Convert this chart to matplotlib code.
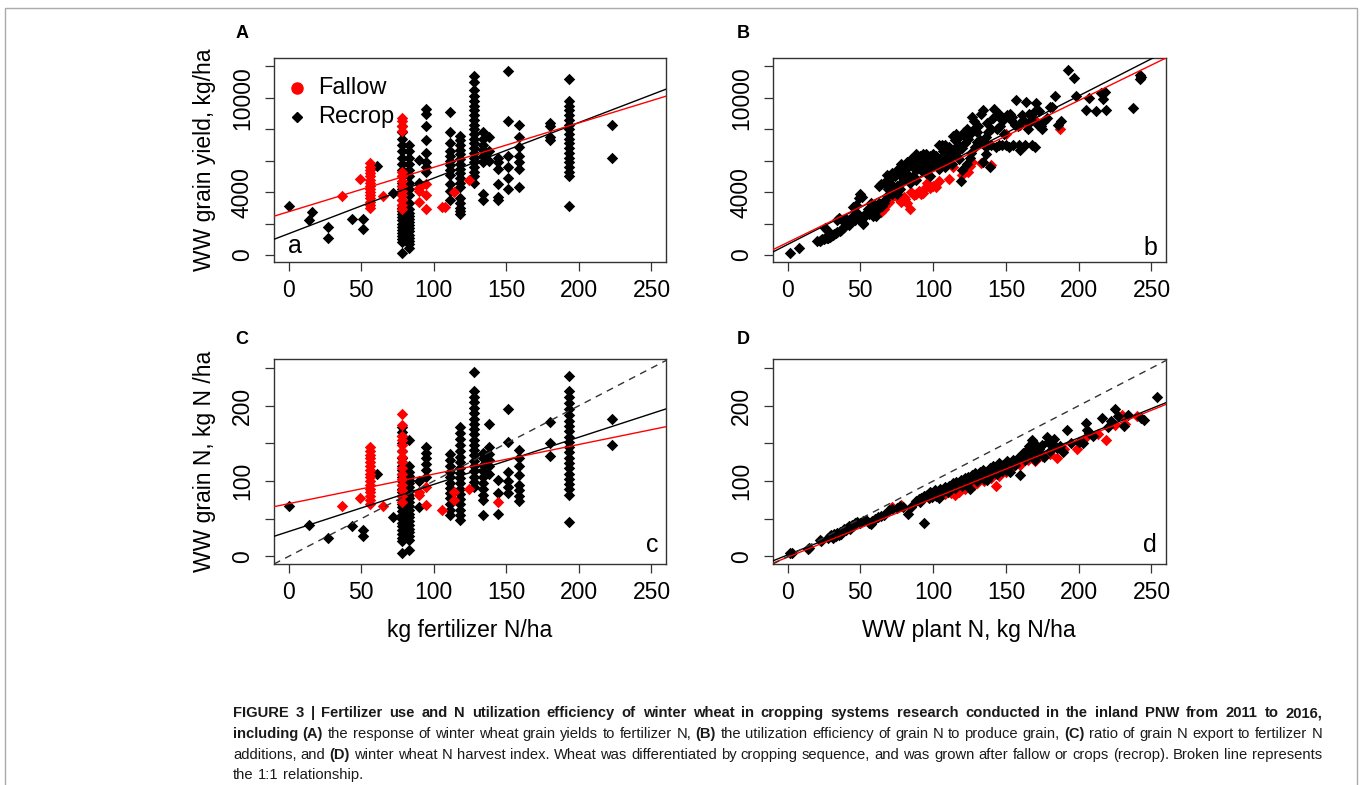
import matplotlib
matplotlib.use("Agg")
import matplotlib.pyplot as plt
from matplotlib import font_manager
from matplotlib.patches import Rectangle

plt.rcParams["font.family"] = ["Liberation Sans", "DejaVu Sans"]

# ---------------- data ----------------
# A: fertilizer N (kg/ha) vs grain yield (kg/ha), columns of points per N rate
a_rec_cols = [
    (0, [3100]), (14, [2200]), (16, [2750]), (27, [1050, 1750]), (44, [2300]),
    (51, [1650, 2300]), (61, [5650]), (72, [3950]),
    (78, [100, 800, 1000, 1200, 1400, 1600, 1800, 2000, 2200, 2400, 2600, 2800, 3000, 3200,
          3500, 3800, 4200, 4400, 4600, 5000, 5400, 5800, 6200, 6600, 7000, 7400, 7800, 8200]),
    (83, [450, 700, 900, 1100, 1300, 1500, 1700, 1900, 2100, 2300, 2500, 2700, 2900, 3300,
          3800, 4200, 4600, 5000, 5400, 5800, 6200, 6600, 7000]),
    (90, [4600, 6050]),
    (95, [5300, 5600, 5900, 6500, 7350, 8200, 9000, 9300]),
    (111, [3500, 4100, 4500, 5100, 5400, 5700, 6000, 6300, 6600, 7100, 7800, 9100]),
    (118, [2600, 2800, 3000, 3300, 3600, 4300, 4600, 4900, 5200, 5500, 5800, 6100, 6400,
           6700, 7000, 7300, 7600]),
    (128, [4600, 5000, 5300, 5600, 5900, 6200, 6500, 6800, 7100, 7400, 7700, 8000, 8300,
           8600, 8900, 9200, 9500, 9800, 10100, 10500, 11000, 11400]),
    (134, [3500, 3900, 5900, 6300, 6700, 7000, 7400, 7800]),
    (138, [6000, 6600, 7500]),
    (144, [3500, 3700, 4500, 5500, 5900, 6200]),
    (151, [4200, 4900, 5600, 6300, 8500, 11700]),
    (159, [4300, 5500, 5900, 6300, 6900, 7500, 8300]),
    (180, [7300, 7500, 8200, 8400]),
    (193, [3100, 5000, 5300, 5600, 5900, 6200, 6500, 6800, 7100, 7400, 7700, 8000, 8300,
           8600, 8900, 9200, 9500, 9800, 11200]),
    (223, [6200, 8300]),
]
a_fal_cols = [
    (37, [3750]), (49, [4850]),
    (56, [3000, 3200, 3400, 3600, 3800, 4000, 4200, 4400, 4600, 4800, 5000, 5200, 5400, 5600, 5850]),
    (65, [3750]),
    (78, [2900, 3200, 3500, 3800, 4100, 4400, 4700, 5000, 5300, 7900, 8200, 8500, 8700]),
    (90, [3400, 4050, 4250]), (95, [2950, 3800, 4500]),
    (106, [3050]), (108, [3050]), (114, [4000]), (124, [4750]),
]

# C: fertilizer N vs grain N (kg N/ha)
c_rec_cols = [
    (0, [67]), (14, [42]), (27, [25]), (44, [40]), (51, [27, 35]), (61, [109]), (72, [53]),
    (78, [4, 20, 25, 30, 35, 40, 45, 50, 55, 60, 65, 70, 75, 80, 85, 90, 95, 100, 105, 110,
          115, 120, 125, 130, 140, 150, 160, 165, 172]),
    (83, [9, 22, 27, 32, 37, 42, 47, 52, 57, 62, 67, 72, 77, 82, 87, 92, 97, 102, 107, 112,
          120, 155]),
    (90, [66, 100]),
    (95, [105, 115, 123, 130, 137, 145]),
    (111, [55, 62, 70, 77, 84, 91, 98, 105, 112, 120, 128, 136]),
    (118, [48, 55, 62, 69, 76, 83, 90, 97, 104, 111, 118, 125, 132, 140, 148, 156, 164, 172]),
    (128, [92, 99, 106, 113, 120, 127, 134, 141, 148, 155, 162, 169, 176, 183, 190, 197, 205,
           212, 220, 245]),
    (134, [55, 75, 82, 90, 98, 106, 114, 122, 130, 137]),
    (138, [110, 120, 128, 136, 145, 176]),
    (144, [56, 84, 102]),
    (151, [84, 92, 100, 112, 152, 196]),
    (159, [73, 80, 88, 95, 108, 120, 130, 141]),
    (180, [133, 151, 179]),
    (193, [46, 82, 89, 96, 103, 110, 117, 124, 131, 138, 145, 152, 159, 166, 173, 180, 188,
           196, 204, 212, 220, 240]),
    (223, [148, 183]),
]
c_fal_cols = [
    (37, [67]), (49, [78]),
    (56, [70, 75, 80, 85, 90, 95, 100, 105, 110, 115, 120, 125, 130, 135, 140, 145]),
    (65, [67]),
    (78, [72, 80, 88, 95, 103, 110, 118, 125, 132, 140, 148, 155, 160, 175, 189]),
    (90, [82, 86]), (95, [68, 92]), (106, [61]), (114, [75, 86]), (124, [89]), (144, [72]),
]

# B: grain N (kg N/ha) vs grain yield (kg/ha)
b_rec = [
    (2, 130), (8, 450),
    (20, 870), (22, 900), (23, 950), (24, 1000), (25, 1020), (26, 1050), (27, 1100), (28, 1080),
    (29, 1150), (30, 1200), (26, 1700), (27, 1600),
    (31, 1300), (32, 1350), (33, 1400), (34, 1450), (34, 2250), (35, 2350), (36, 1500), (37, 1600),
    (38, 2150), (38, 1700), (39, 1800), (40, 2000), (41, 1950), (40, 2300),
    (42, 1900), (43, 2100), (44, 2400), (45, 2500), (45, 3050), (46, 2200), (47, 3200), (48, 2700),
    (49, 3600), (50, 3900), (50, 2300), (51, 3700),
    (52, 1950), (52, 2050), (53, 2500), (54, 2700), (55, 2900), (56, 2600), (57, 3000), (58, 2800),
    (59, 2450), (60, 3200), (57, 3300),
    (61, 2500), (62, 2950), (63, 3300), (64, 4500), (65, 3100), (66, 4600), (67, 3500), (68, 3750),
    (69, 4200), (70, 4800), (68, 5100), (63, 4400), (66, 3300),
    (71, 4500), (72, 5200), (73, 4100), (74, 5000), (75, 4400), (76, 5500), (77, 4200), (78, 5000),
    (79, 4700), (80, 5300), (75, 3900), (72, 3900), (78, 5800),
    (81, 5400), (82, 5900), (83, 5100), (84, 6000), (85, 6100), (86, 5600), (87, 5800), (88, 6400),
    (89, 5500), (90, 5650), (86, 5000), (88, 4800), (84, 4600), (90, 6200),
    (91, 6300), (92, 5900), (93, 6400), (94, 5700), (95, 6400), (96, 6000), (97, 5500), (98, 6300),
    (99, 5800), (100, 5650), (95, 5200), (98, 5000), (92, 5400), (100, 6400),
    (101, 5900), (102, 6300), (103, 6200), (104, 7000), (105, 6100), (106, 5800), (107, 6600),
    (108, 7000), (109, 6100), (110, 6800), (104, 5500), (108, 5600), (110, 6400), (106, 7000),
    (111, 6900), (112, 6300), (113, 6700), (114, 7600), (115, 7300), (116, 6500), (117, 7000),
    (118, 6100), (119, 4700), (120, 6800), (113, 5800), (116, 7700), (118, 7500), (120, 5400),
    (121, 7800), (122, 7100), (123, 8000), (124, 7400), (125, 7700), (126, 6500), (127, 8800),
    (128, 8000), (129, 6900), (130, 7800), (123, 5800), (125, 6200), (128, 8500), (130, 7200),
    (122, 7600),
    (131, 8200), (132, 7300), (133, 9000), (134, 9200), (135, 7000), (136, 7500), (137, 8400),
    (138, 7000), (139, 5600), (140, 8000), (134, 5900), (136, 6400), (138, 7800), (140, 7000),
    (141, 8700), (142, 9300), (143, 6900), (144, 8000), (145, 7000), (146, 8200), (147, 7000),
    (148, 8600), (149, 7700), (150, 7000), (145, 9000), (147, 8600),
    (151, 8900), (152, 6900), (153, 9000), (154, 8500), (155, 7000), (156, 8300), (157, 9850),
    (158, 8200), (159, 7000), (160, 6700), (154, 8800),
    (161, 8900), (162, 8600), (163, 7000), (164, 9750), (165, 8000), (166, 8400), (167, 8600),
    (168, 7000), (169, 9100), (170, 6900), (166, 9000),
    (171, 9700), (172, 8300), (173, 9150), (174, 8200), (175, 8000), (176, 8500), (178, 8700),
    (180, 9450), (182, 9400), (184, 10100), (186, 8300), (188, 8500),
    (193, 11800), (197, 11250), (198, 10100), (205, 9250), (207, 10000), (212, 9150), (215, 10300),
    (217, 9950), (218, 10400), (219, 9250), (237, 9350), (242, 11450), (242, 11200), (243, 11350),
]
b_fal = [
    (64, 2750), (66, 2900), (67, 3100), (69, 3300), (70, 3400), (72, 3700), (74, 3800), (76, 3600),
    (78, 3400), (79, 3500), (80, 3700), (81, 3550), (82, 3300), (84, 2900), (85, 4000), (87, 3800),
    (88, 3900), (90, 4100), (92, 3850), (93, 3950), (95, 4300), (96, 4600), (98, 4250), (100, 4400),
    (102, 4350), (104, 4700), (111, 4850), (114, 5600), (120, 5100), (124, 5300), (125, 5650),
    (127, 5900), (133, 5850), (140, 5700), (150, 7700), (160, 8300), (170, 8600), (187, 8050),
]

# D: plant N (kg N/ha) vs grain N (kg N/ha)
d_rec = [
    (2, 4), (3, 5), (14, 10), (15, 11), (22, 22), (23, 21), (28, 25), (29, 27), (30, 28), (31, 24),
    (32, 30), (33, 27), (34, 31), (35, 29), (36, 33), (37, 30), (38, 34), (39, 37), (40, 35),
    (41, 38), (42, 40), (43, 36), (44, 42), (45, 41), (46, 44), (48, 46), (50, 45), (52, 47),
    (54, 49), (56, 45), (57, 43), (58, 47), (60, 50), (62, 53), (64, 54), (66, 55), (70, 61),
    (72, 63), (75, 64), (77, 67), (79, 66), (83, 56), (85, 66), (88, 74), (90, 76), (91, 72),
    (92, 78), (94, 80), (94, 45), (96, 82), (97, 77), (98, 85), (99, 79), (100, 84), (101, 88),
    (102, 80), (103, 86), (104, 77), (105, 90), (106, 84), (107, 88), (108, 92), (110, 86),
    (111, 94), (112, 89), (113, 93), (114, 97), (115, 91), (116, 99), (117, 95), (118, 97),
    (119, 102), (120, 93), (121, 100), (122, 104), (123, 98), (124, 106), (125, 89), (126, 102),
    (127, 108), (128, 104), (129, 111), (130, 100), (131, 106), (132, 112), (133, 108), (134, 115),
    (135, 103), (136, 110), (137, 102), (138, 114), (139, 118), (140, 108), (141, 120), (142, 112),
    (143, 116), (144, 109), (145, 124), (146, 118), (147, 113), (148, 121), (150, 115), (151, 126),
    (152, 120), (153, 112), (155, 128), (156, 122), (158, 130), (160, 108), (161, 134), (162, 137),
    (163, 128), (164, 140), (165, 132), (166, 146), (167, 138), (168, 155), (169, 150), (170, 128),
    (171, 144), (172, 136), (173, 142), (175, 148), (176, 132), (178, 158), (179, 152), (180, 140),
    (182, 150), (183, 156), (185, 144), (187, 146), (189, 139), (192, 168), (195, 150), (200, 152),
    (203, 150), (205, 177), (206, 168), (207, 164), (210, 160), (216, 184), (220, 172), (222, 180),
    (225, 195), (227, 186), (231, 173), (234, 188), (243, 184), (245, 181), (254, 211),
]
d_fal = [
    (72, 65), (78, 68), (95, 80), (100, 82), (105, 84), (108, 83), (112, 84), (115, 82), (118, 86),
    (122, 90), (125, 92), (128, 95), (130, 98), (135, 100), (140, 104), (143, 93), (145, 107),
    (150, 112), (155, 120), (160, 122), (165, 128), (170, 126), (175, 133), (180, 136), (185, 130),
    (190, 142), (199, 143), (205, 158), (213, 162), (219, 155), (225, 175), (230, 188), (232, 176),
    (240, 186),
]

# fitted lines (intercept, slope) as drawn in each panel
fit_a = {"fal": (2750, 28.3), "rec": (1350, 35.4)}
fit_b = {"fal": (790, 45.2), "rec": (665, 47.3)}
fit_c = {"fal": (70, 0.393), "rec": (33, 0.626)}
fit_d = {"fal": (-1, 0.780), "rec": (2, 0.777)}

x_ticks = [0, 50, 100, 150, 200, 250]
yld_ticks = [0, 2000, 4000, 6000, 8000, 10000, 12000]
yld_labels = ["0", "", "4000", "", "", "10000", ""]
n_ticks = [0, 50, 100, 150, 200, 250]
n_labels = ["0", "", "100", "", "200", ""]


def cols_to_xy(cols):
    xs = [c for c, ys in cols for _ in ys]
    ys = [y for _, ys in cols for y in ys]
    return xs, ys


def pairs_to_xy(pairs):
    return [p[0] for p in pairs], [p[1] for p in pairs]


# ---------------- figure ----------------
W, H = 1362, 785
fig = plt.figure(figsize=(W / 100, H / 100), dpi=100)


def fx(px):
    return px / W


def fy(py):
    return 1 - py / H


def make_ax(l, t, r, b):
    return fig.add_axes([fx(l), fy(b), (r - l) / W, (b - t) / H])


axA = make_ax(274, 58, 666, 262)
axB = make_ax(773, 58, 1166, 262)
axC = make_ax(274, 359, 666, 564)
axD = make_ax(773, 359, 1166, 564)

RED = "#ff0000"
MS = 34

for ax in (axA, axB, axC, axD):
    ax.set_xlim(-10, 260)
    ax.set_xticks(x_ticks)
    for s in ax.spines.values():
        s.set_color("#333333")
        s.set_linewidth(1.0)
    ax.tick_params(direction="out", length=6.5, width=0.9, colors="#333333",
                   labelcolor="black", labelsize=16.5)
    ax.tick_params(axis="x", pad=6)
    ax.tick_params(axis="y", pad=8)

for ax in (axA, axB):
    ax.set_ylim(-450, 12540)
    ax.set_yticks(yld_ticks)
    ax.set_yticklabels(yld_labels, rotation=90, va="center")
for ax in (axC, axD):
    ax.set_ylim(-10, 262)
    ax.set_yticks(n_ticks)
    ax.set_yticklabels(n_labels, rotation=90, va="center")

# panel A
x, y = cols_to_xy(a_rec_cols)
axA.scatter(x, y, marker="D", s=MS, c="black", linewidths=0, zorder=2)
x, y = cols_to_xy(a_fal_cols)
axA.scatter(x, y, marker="D", s=MS, c=RED, linewidths=0, zorder=2)

# panel C
x, y = cols_to_xy(c_rec_cols)
axC.scatter(x, y, marker="D", s=MS, c="black", linewidths=0, zorder=2)
x, y = cols_to_xy(c_fal_cols)
axC.scatter(x, y, marker="D", s=MS, c=RED, linewidths=0, zorder=2)

# panel B
x, y = pairs_to_xy(b_fal)
axB.scatter(x, y, marker="D", s=MS, c=RED, linewidths=0, zorder=2)
x, y = pairs_to_xy(b_rec)
axB.scatter(x, y, marker="D", s=MS, c="black", linewidths=0, zorder=2)

# panel D
x, y = pairs_to_xy(d_fal)
axD.scatter(x, y, marker="D", s=MS, c=RED, linewidths=0, zorder=2)
x, y = pairs_to_xy(d_rec)
axD.scatter(x, y, marker="D", s=MS, c="black", linewidths=0, zorder=2)

for ax, fit in ((axA, fit_a), (axB, fit_b), (axC, fit_c), (axD, fit_d)):
    b0, m = fit["rec"]
    ax.axline((0, b0), slope=m, color="black", lw=1.0, zorder=3)
    b0, m = fit["fal"]
    ax.axline((0, b0), slope=m, color=RED, lw=1.0, zorder=3)
for ax in (axC, axD):
    ax.axline((0, 0), slope=1, color="#333333", lw=1.0, ls=(0, (5, 4)), zorder=3)

# legend in A
axA.plot(0.058, 0.854, "o", color=RED, ms=8, transform=axA.transAxes, clip_on=False)
axA.plot(0.058, 0.712, "D", color="black", ms=5.5, transform=axA.transAxes, clip_on=False)
axA.text(0.112, 0.854, "Fallow", transform=axA.transAxes, va="center", fontsize=17)
axA.text(0.112, 0.712, "Recrop", transform=axA.transAxes, va="center", fontsize=17)

# panel letters
for txt, px, py in (("A", 242, 33), ("B", 743, 33), ("C", 242, 340), ("D", 743, 340)):
    fig.text(fx(px), fy(py), txt, fontsize=13, fontweight="bold", ha="center", va="center")
for txt, px, py in (("a", 295, 246), ("b", 1150, 248), ("c", 652, 545), ("d", 1150, 545)):
    fig.text(fx(px), fy(py), txt, fontsize=18, ha="center", va="center")

# axis titles
fig.text(fx(205), fy(160), "WW grain yield, kg/ha", rotation=90, fontsize=16.5,
         ha="center", va="center")
fig.text(fx(205), fy(461), "WW grain N, kg N /ha", rotation=90, fontsize=16.5,
         ha="center", va="center")
fig.text(fx(470), fy(630), "kg fertilizer N/ha", fontsize=16.5, ha="center", va="center")
fig.text(fx(969), fy(630), "WW plant N, kg N/ha", fontsize=16.5, ha="center", va="center")

# outer frame
fig.patches.append(Rectangle((fx(5), -0.02), fx(1357) - fx(5), fy(8) + 0.02,
                             transform=fig.transFigure, fill=False, ec="#aaaaaa", lw=1.0))

# caption with mixed bold runs, justified like the journal layout
try:
    font_manager.findfont("Liberation Sans Narrow", fallback_to_default=False)
    cap_font = "Liberation Sans Narrow"
except ValueError:
    cap_font = "Liberation Sans"

cap_lines = [
    [("FIGURE 3 | Fertilizer use and N utilization efficiency of winter wheat in cropping "
      "systems research conducted in the inland PNW from 2011 to 2016,", True)],
    [("including (A)", True), ("the response of winter wheat grain yields to fertilizer N,", False),
     ("(B)", True), ("the utilization efficiency of grain N to produce grain,", False),
     ("(C)", True), ("ratio of grain N export to fertilizer N", False)],
    [("additions, and", False), ("(D)", True),
     ("winter wheat N harvest index. Wheat was differentiated by cropping sequence, and was "
      "grown after fallow or crops (recrop). Broken line represents", False)],
    [("the 1:1 relationship.", False)],
]
cap_justify = [True, True, True, False]
cap_base = [717, 738, 759, 779]
cap_x0, cap_x1 = 233, 1322

renderer = fig.canvas.get_renderer()


def text_w(s, size, bold):
    t = fig.text(0, 0, s, fontsize=size, family=cap_font,
                 fontweight="bold" if bold else "normal")
    w = t.get_window_extent(renderer).width
    t.remove()
    return w


def line_words(parts):
    return [(w, bold) for s, bold in parts for w in s.split(" ")]


def natural_w(parts, size):
    words = line_words(parts)
    sp = text_w("x x", size, False) - text_w("xx", size, False)
    return sum(text_w(w, size, b) for w, b in words) + sp * (len(words) - 1)


# one size for the whole caption: the largest at which every line fits
cap_fs = min(10 * (cap_x1 - cap_x0) / natural_w(p, 10) for p in cap_lines[:3])

sp_w = text_w("x x", cap_fs, False) - text_w("xx", cap_fs, False)
for parts, base, just in zip(cap_lines, cap_base, cap_justify):
    words = line_words(parts)
    widths = [text_w(w, cap_fs, b) for w, b in words]
    gap = sp_w
    if just and len(words) > 1:
        gap = (cap_x1 - cap_x0 - sum(widths)) / (len(words) - 1)
    xpos = cap_x0
    for (w, bold), ww in zip(words, widths):
        fig.text(fx(xpos), fy(base), w, fontsize=cap_fs, family=cap_font,
                 fontweight="bold" if bold else "normal", color="#1a1a1a", va="baseline")
        xpos += ww + gap

fig.savefig("out.png", dpi=100)
